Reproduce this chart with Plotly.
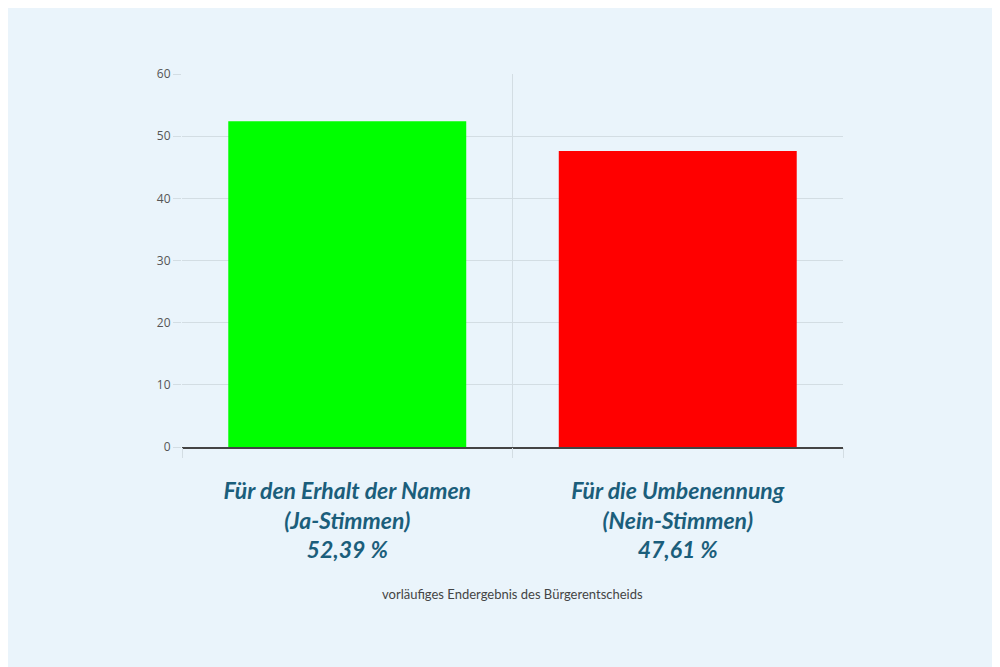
import plotly.graph_objects as go

categories = [
    "Für den Erhalt der Namen<br>(Ja-Stimmen)<br>52,39 %",
    "Für die Umbenennung<br>(Nein-Stimmen)<br>47,61 %",
]
values = [52.39, 47.61]
colors = ["#00FF00", "#FF0000"]
y_ticks = [0, 10, 20, 30, 40, 50, 60]
caption = "vorläufiges Endergebnis des Bürgerentscheids"

xpos = list(range(len(categories)))
bounds = [i - 0.5 for i in range(len(categories) + 1)]

fig = go.Figure()
fig.add_trace(go.Bar(x=xpos, y=values, marker=dict(color=colors, line=dict(width=0)),
                     width=0.72, hoverinfo="y"))
# invisible trace to carry the boundary grid axis
fig.add_trace(go.Scatter(x=bounds, y=[0] * len(bounds), xaxis="x2", mode="markers",
                         marker=dict(opacity=0), hoverinfo="skip"))

fig.update_layout(
    width=1000,
    height=667,
    paper_bgcolor="#EAF4FB",
    plot_bgcolor="#EAF4FB",
    margin=dict(l=174, r=165, t=66, b=228),
    showlegend=False,
    font=dict(family="Open Sans", color="#555555"),
    xaxis=dict(
        range=[-0.5, 1.5],
        tickvals=xpos,
        ticktext=["<b><i>" + c + "</i></b>" for c in categories],
        tickfont=dict(family="Lato", size=23, color="#1B5E7B"),
        showgrid=False,
        ticks="",
        ticklabelstandoff=22,
        showline=True,
        linecolor="#444444",
        linewidth=2,
        zeroline=False,
    ),
    xaxis2=dict(
        overlaying="x",
        matches="x",
        side="bottom",
        tickvals=bounds,
        showticklabels=False,
        showgrid=True,
        gridcolor="#D3DDE3",
        zeroline=False,
        ticks="outside",
        ticklen=10,
        tickcolor="#D3DDE3",
    ),
    yaxis=dict(
        range=[0, 60],
        tickvals=y_ticks,
        tickfont=dict(size=12, color="#555555"),
        showgrid=True,
        gridcolor="#D3DDE3",
        ticks="outside",
        ticklen=8,
        tickcolor="#D3DDE3",
        zeroline=False,
    ),
    annotations=[
        dict(text=caption, x=0.5, y=-0.42, xref="paper", yref="paper",
             showarrow=False, font=dict(family="Lato", size=13, color="#444444"))
    ],
)

fig.write_html("out.html")
